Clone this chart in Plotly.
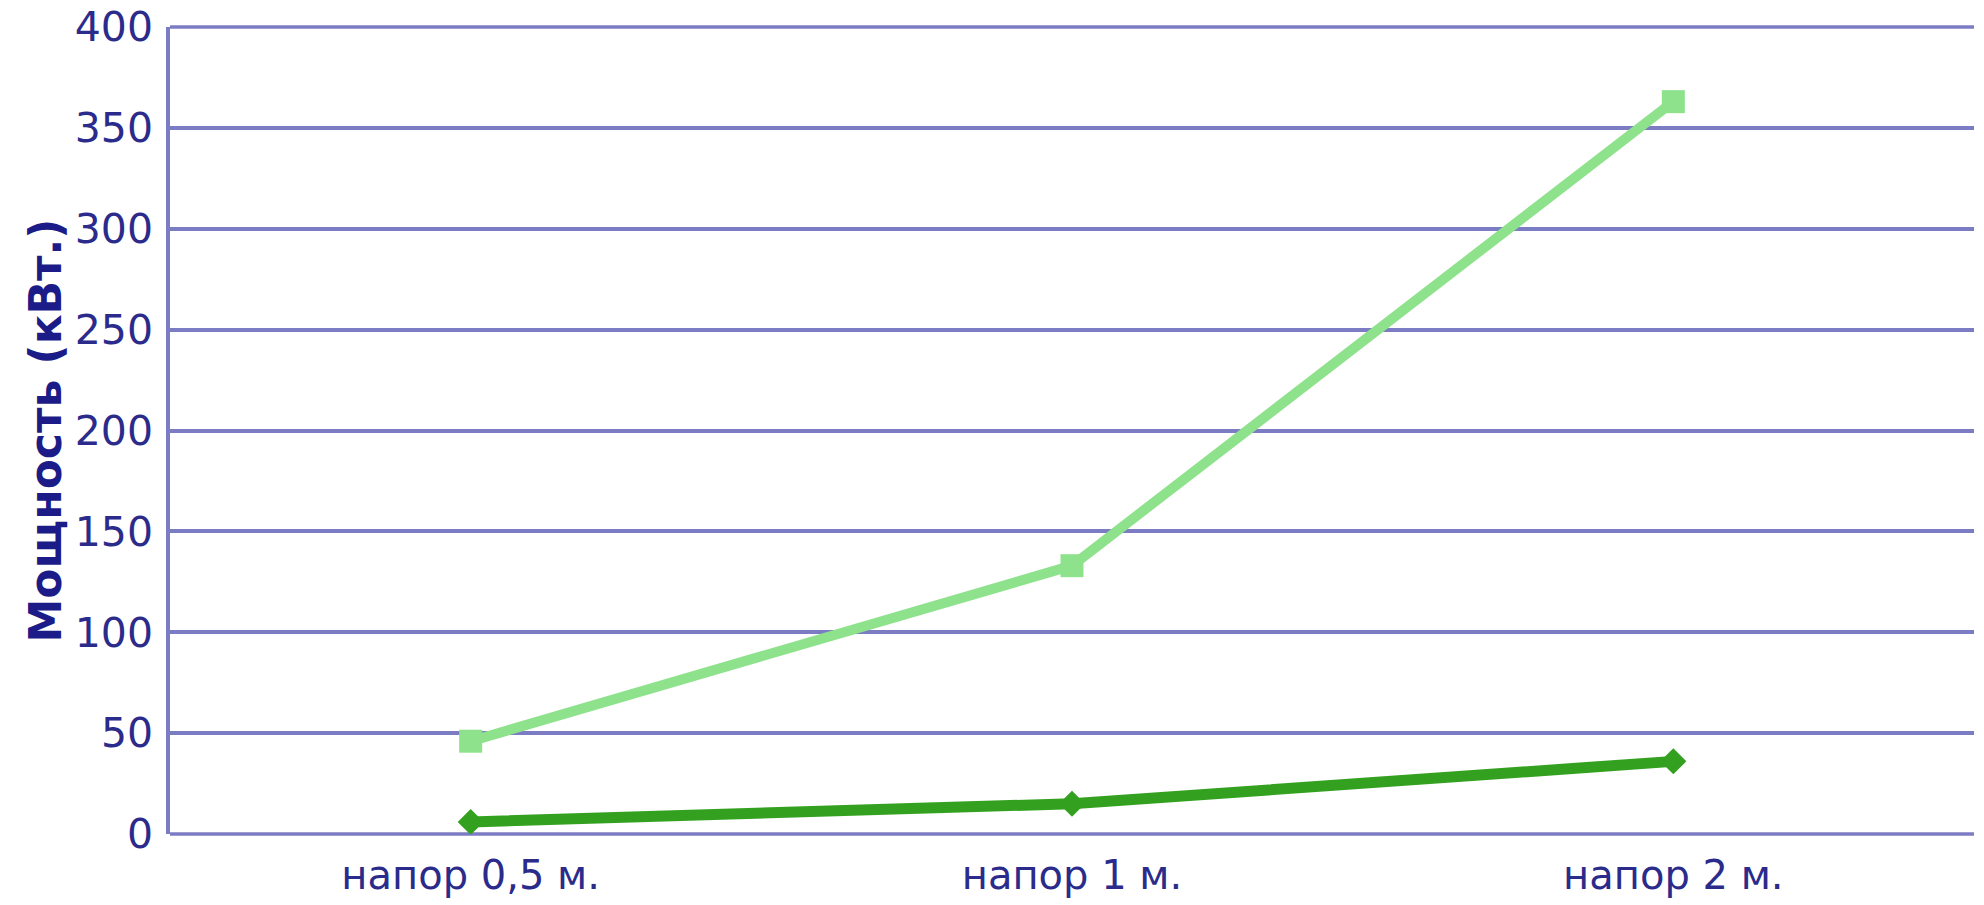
import plotly.graph_objects as go

# Categories (head heights) and power output per series, kW
categories = ["напор 0,5 м.", "напор 1 м.", "напор 2 м."]
series_upper = [46, 133, 363]
series_lower = [6, 15, 36]
y_ticks = [0, 50, 100, 150, 200, 250, 300, 350, 400]

grid_color = "#7c7cc4"
text_color = "#2b2b8c"

fig = go.Figure()

fig.add_trace(go.Scatter(
    x=categories, y=series_upper, mode="lines+markers",
    line=dict(color="#8ee28c", width=10),
    marker=dict(symbol="square", size=23, color="#8ee28c"),
    showlegend=False,
))

fig.add_trace(go.Scatter(
    x=categories, y=series_lower, mode="lines+markers",
    line=dict(color="#33a11f", width=11),
    marker=dict(symbol="diamond", size=20, color="#33a11f"),
    showlegend=False,
))

fig.update_layout(
    width=1984, height=905,
    margin=dict(l=170, r=10, t=27, b=71),
    paper_bgcolor="white", plot_bgcolor="white",
    font=dict(family="DejaVu Sans", color=text_color),
    xaxis=dict(
        type="category", range=[-0.5, 2.5],
        showgrid=False, zeroline=False, showline=False, automargin=False,
        ticks="", tickfont=dict(size=40, family="DejaVu Sans", color=text_color),
        ticklabelstandoff=14,
    ),
    yaxis=dict(
        range=[0, 400], tickvals=y_ticks, automargin=False,
        showgrid=True, gridcolor=grid_color, gridwidth=3.5,
        zeroline=False, showline=True, linecolor=grid_color, linewidth=3.5,
        mirror=False, ticks="",
        tickfont=dict(size=41, family="DejaVu Sans", color=text_color),
        ticklabelstandoff=5,
        title=dict(text="<b>Мощность (кВт.)</b>",
                   font=dict(size=44, family="DejaVu Sans", color="#1c1c88"),
                   standoff=0),
    ),
)

# frame lines along the bottom (0) and top (400) of the value range
for yp in (0, 1):
    fig.add_shape(type="line", xref="paper", yref="paper", x0=0, x1=1, y0=yp, y1=yp,
                  line=dict(color=grid_color, width=3.5), layer="below")

fig.write_html("out.html")
